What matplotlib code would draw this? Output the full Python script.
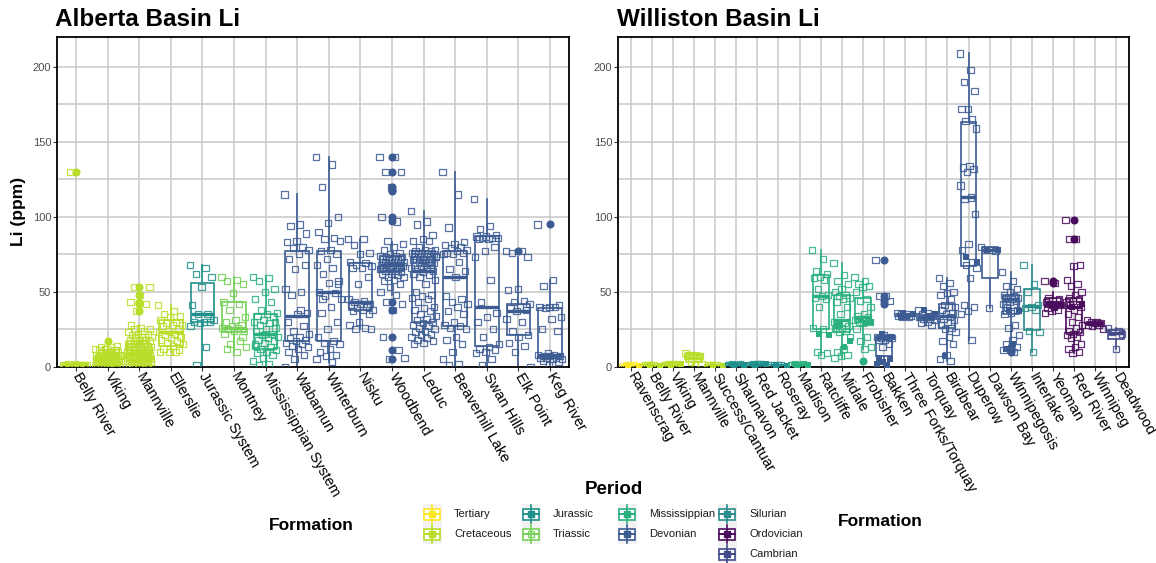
import numpy as np
import matplotlib.pyplot as plt
from matplotlib.patches import Rectangle
from matplotlib.lines import Line2D

plt.rcParams['font.family'] = ['Liberation Sans', 'DejaVu Sans']

period_colors = {
    'Tertiary': '#FDE725', 'Cretaceous': '#B8DE29', 'Jurassic': '#20908C',
    'Triassic': '#73D055', 'Mississippian': '#2AB07F', 'Devonian': '#3B5B92',
    'Silurian': '#288D8C', 'Ordovician': '#4A0C5C', 'Cambrian': '#424A8A',
}

# ---------------- Alberta Basin ----------------
ab_names = ['Belly River', 'Viking', 'Mannville', 'Ellerslie', 'Jurassic System', 'Montney',
            'Mississippian System', 'Wabamun', 'Winterburn', 'Nisku', 'Woodbend', 'Leduc',
            'Beaverhill Lake', 'Swan Hills', 'Elk Point', 'Keg River']
ab_period = ['Cretaceous', 'Cretaceous', 'Cretaceous', 'Cretaceous', 'Jurassic', 'Triassic',
             'Mississippian', 'Devonian', 'Devonian', 'Devonian', 'Devonian', 'Devonian',
             'Devonian', 'Devonian', 'Devonian', 'Devonian']
ab_q1 = [0.5, 3, 4, 14, 30, 23, 12, 17, 17, 38, 64, 30, 27, 14, 21, 5.5]
ab_med = [1, 5, 9, 23, 35, 26, 22, 34, 50, 43, 68, 64, 60, 40, 37, 7.5]
ab_q3 = [1.5, 8, 15, 31, 56, 43, 35, 77, 77, 69, 74, 77, 77, 87, 42, 39]
ab_lo = [0, 0, 0, 10, 1, 10, 1, 0, 3, 25, 48, 17, 0, 0, 0, 1]
ab_hi = [2, 14, 28, 41, 68, 60, 60, 115, 140, 85, 83, 104, 130, 112, 73, 58]
ab_outliers = [[130], [17], [37, 42, 43, 48, 53], [], [], [], [], [], [], [],
               [140, 130, 120, 118, 117, 100, 97, 43, 38, 20, 11, 5], [], [], [], [77], [95]]
ab_points = [
    [1, 1, 0, 1, 2, 1, 1, 0, 1, 1, 2, 1, 1, 0, 1, 130],
    [0, 1, 1, 2, 2, 3, 3, 3, 4, 4, 4, 4, 5, 5, 5, 5, 5, 6, 6, 6, 6, 7, 7, 7, 8, 8, 8, 9, 9, 10,
     10, 11, 11, 12, 12, 13, 13, 14, 1, 2, 3, 4, 5, 6, 7, 2, 3, 4, 5, 6, 3, 4, 5, 1, 2, 8, 9, 10, 11, 12],
    [0, 1, 1, 2, 2, 2, 3, 3, 3, 3, 4, 4, 4, 4, 5, 5, 5, 5, 6, 6, 6, 6, 7, 7, 7, 7, 8, 8, 8, 8,
     9, 9, 9, 10, 10, 10, 11, 11, 11, 12, 12, 12, 13, 13, 14, 14, 15, 15, 16, 16, 17, 17, 18, 18,
     19, 20, 20, 21, 22, 22, 23, 24, 25, 25, 26, 28, 2, 4, 6, 8, 10, 12, 14, 16, 18, 20, 3, 5, 7,
     9, 11, 13, 15, 53, 53, 48, 43, 42, 37],
    [41, 37, 35, 34, 33, 31, 30, 29, 28, 28, 27, 25, 24, 23, 22, 21, 20, 19, 18, 17, 16, 15, 14,
     12, 11, 10, 10, 10],
    [68, 66, 62, 60, 53, 41, 35, 35, 31, 30, 30, 30, 29, 27, 13, 1],
    [60, 58, 57, 55, 49, 43, 42, 38, 33, 31, 30, 28, 27, 26, 26, 25, 24, 24, 22, 17, 15, 13, 10, 12, 20],
    [60, 59, 57, 52, 50, 45, 43, 38, 36, 35, 34, 33, 31, 30, 29, 28, 26, 25, 24, 22, 21, 20, 19,
     18, 17, 16, 15, 13, 12, 11, 10, 9, 8, 6, 4, 2, 1, 30, 22, 14],
    [115, 95, 94, 89, 84, 83, 80, 79, 78, 75, 72, 68, 65, 52, 50, 48, 36, 35, 30, 27, 24, 22, 20,
     19, 18, 17, 16, 15, 14, 13, 12, 10, 8, 5, 0, 38],
    [140, 135, 120, 100, 96, 90, 86, 85, 84, 78, 77, 75, 72, 68, 66, 62, 57, 56, 50, 49, 47, 45,
     40, 36, 30, 25, 20, 17, 16, 15, 12, 10, 8, 7, 5, 3, 45, 55],
    [85, 85, 81, 76, 75, 70, 69, 68, 67, 66, 66, 60, 55, 45, 44, 43, 42, 42, 41, 40, 39, 38, 38,
     37, 35, 30, 28, 26, 25, 25],
    [140, 140, 130, 130, 120, 100, 97, 84, 82, 80, 78, 76, 75, 74, 74, 73, 73, 72, 72, 71, 71, 70,
     70, 70, 69, 69, 68, 68, 68, 67, 67, 66, 66, 65, 65, 64, 64, 63, 62, 62, 61, 60, 60, 58, 57,
     55, 53, 50, 48, 43, 42, 38, 20, 11, 5, 6, 72, 70, 68, 66, 65],
    [104, 97, 95, 88, 85, 84, 84, 80, 78, 78, 77, 77, 76, 76, 75, 75, 75, 74, 74, 74, 73, 73, 72,
     72, 72, 71, 71, 70, 70, 69, 69, 68, 68, 67, 66, 65, 65, 64, 63, 62, 61, 60, 58, 55, 50, 48,
     47, 46, 45, 43, 40, 39, 38, 37, 35, 34, 32, 31, 30, 29, 28, 27, 26, 25, 24, 23, 22, 21, 20,
     19, 18, 17, 16, 15, 70, 72, 74, 68],
    [130, 115, 93, 83, 82, 81, 80, 79, 78, 77, 76, 76, 75, 75, 70, 65, 64, 60, 47, 45, 43, 42, 40,
     37, 35, 30, 28, 27, 26, 25, 20, 18, 15, 10, 5, 2, 1],
    [112, 94, 92, 88, 87, 87, 86, 86, 86, 85, 85, 80, 77, 73, 58, 43, 36, 33, 30, 25, 20, 15, 13,
     12, 11, 10, 9, 5, 1],
    [77, 77, 76, 73, 52, 51, 44, 43, 42, 40, 39, 38, 37, 32, 30, 24, 21, 20, 16, 14, 10, 0],
    [95, 58, 54, 41, 40, 40, 40, 39, 33, 32, 25, 24, 9, 8, 8, 7, 7, 7, 6, 6, 6, 5, 5, 4, 3, 1],
]
ab_filled = [[] for _ in ab_names]

# ---------------- Williston Basin ----------------
wb_names = ['Ravenscrag', 'Belly River', 'Viking', 'Mannville', 'Success/Cantuar', 'Shaunavon',
            'Red Jacket', 'Roseray', 'Madison', 'Ratcliffe', 'Midale', 'Frobisher', 'Bakken',
            'Three Forks/Torquay', 'Torquay', 'Birdbear', 'Duperow', 'Dawson Bay', 'Winnipegosis',
            'Interlake', 'Yeoman', 'Red River', 'Winnipeg', 'Deadwood']
wb_period = ['Tertiary', 'Cretaceous', 'Cretaceous', 'Cretaceous', 'Cretaceous', 'Jurassic',
             'Jurassic', 'Jurassic', 'Mississippian', 'Mississippian', 'Mississippian',
             'Mississippian', 'Devonian', 'Devonian', 'Devonian', 'Devonian', 'Devonian',
             'Devonian', 'Devonian', 'Silurian', 'Ordovician', 'Ordovician', 'Ordovician', 'Cambrian']
wb_q1 = [0.2, 0.3, 0.8, 3, 0.3, 0.5, 0.8, 0.3, 0.5, 25, 23, 30, 7, 33.5, 31, 26, 67.5, 59, 35,
         24.6, 40, 22.4, 28, 18.4]
wb_med = [0.5, 0.7, 1.2, 6, 0.6, 1.0, 1.3, 0.7, 1.0, 47, 31, 33, 19, 34.5, 33, 34, 113, 78, 45,
          40.7, 42.5, 40, 29, 22.8]
wb_q3 = [0.8, 1.0, 1.6, 7.5, 1.0, 1.5, 2.0, 1.0, 1.5, 61, 48, 46, 20.5, 35, 34, 42, 163, 80, 48,
         51.8, 46, 45.8, 30, 24.6]
wb_lo = [0, 0, 0.3, 1, 0, 0, 0.2, 0, 0, 8, 6, 12, 1, 33, 28, 4, 18, 39, 15, 10, 36, 9, 25, 12]
wb_hi = [1, 1.5, 2, 9, 1.5, 2, 2.5, 1.5, 2, 78, 69, 58, 21, 36, 38, 59, 209, 80, 63, 68, 50, 68,
         31, 26]
wb_outliers = [[], [], [], [], [], [], [], [], [], [], [], [4], [71, 47, 44, 42], [], [], [], [],
               [], [13, 12, 11, 10], [], [57, 56], [98, 85], [], []]
wb_points = [
    [0, 0, 1, 0, 1, 0, 1, 0],
    [0, 1, 1, 0, 1, 1, 0, 1],
    [1, 1, 2, 1, 2, 1, 2, 1],
    [9, 8, 8, 7, 7, 7, 6, 3, 2, 1, 8, 7],
    [0, 1, 1, 0, 1, 1, 0],
    [1, 1, 2, 1, 0, 1, 2, 1],
    [1, 2, 2, 1, 2, 1, 2, 1],
    [0, 1, 1, 0, 1, 1, 0],
    [1, 1, 2, 1, 0, 1, 2, 1],
    [78, 72, 64, 62, 60, 59, 58, 52, 48, 47, 46, 45, 40, 26, 25, 10, 9, 8],
    [69, 61, 57, 55, 52, 50, 48, 47, 46, 45, 43, 40, 35, 30, 29, 28, 27, 26, 25, 24, 23, 20, 12,
     10, 8, 7, 6],
    [60, 57, 55, 54, 53, 50, 45, 44, 40, 35, 34, 33, 32, 31, 31, 30, 30, 29, 25, 20, 17, 13, 12],
    [71, 47, 47, 44, 21, 20, 20, 19, 19, 18, 18, 15, 13],
    [36, 35, 35, 34, 34, 34, 33, 33],
    [38, 36, 35, 34, 33, 33, 32, 32, 31, 30, 29, 28],
    [59, 56, 54, 50, 49, 48, 45, 41, 40, 40, 38, 36, 35, 34, 33, 32, 31, 30, 28, 26, 25, 23, 20,
     17, 15, 8, 5, 4],
    [209, 198, 190, 184, 172, 172, 165, 164, 159, 134, 133, 132, 130, 121, 113, 112, 102, 82, 78,
     70, 68, 66, 59, 41, 40, 37, 35, 18],
    [80, 78, 78, 77, 39],
    [63, 57, 54, 52, 50, 48, 47, 46, 46, 45, 45, 44, 43, 42, 41, 40, 38, 36, 35, 28, 26, 21, 18,
     15, 13, 12, 11, 10],
    [68, 55, 50, 41, 40, 39, 38, 24, 23, 10],
    [57, 56, 46, 45, 44, 43, 42, 42, 41, 40, 39, 38, 37, 36],
    [98, 85, 85, 68, 67, 58, 55, 54, 50, 48, 46, 45, 44, 43, 42, 41, 40, 38, 35, 33, 30, 28, 26,
     24, 23, 22, 21, 20, 19, 15, 13, 12, 10, 9],
    [31, 30, 30, 29, 29, 28, 28, 27, 25],
    [26, 24, 23, 22, 12],
]
wb_filled = [[0.5, 0.5], [0.5, 0.8], [1, 1.5], [], [0.5, 0.8], [1, 1], [1, 1.5], [0.5, 0.8],
             [1, 1], [22, 21], [28, 17, 13, 27], [31, 30, 29], [22, 20, 19, 6, 5, 3, 2, 1],
             [36, 35, 34, 33], [38, 35, 34], [7], [73, 70], [78, 78], [38, 37, 15, 12], [],
             [42, 41, 40], [40, 42], [], []]

legend_cols = [['Tertiary', 'Cretaceous'], ['Jurassic', 'Triassic'],
               ['Mississippian', 'Devonian'], ['Silurian', 'Ordovician', 'Cambrian']]


def jitter(n, shift=0.0):
    return ((np.arange(n) * 0.6180339 + shift) % 1 - 0.5) * 0.8


def draw_panel(ax, names, periods, q1, med, q3, lo, hi, outliers, points, filled):
    for i, name in enumerate(names):
        c = period_colors[periods[i]]
        stats = [dict(q1=q1[i], med=med[i], q3=q3[i], whislo=lo[i], whishi=hi[i],
                      fliers=outliers[i])]
        ax.bxp(stats, positions=[i], widths=0.75, patch_artist=True,
               boxprops=dict(facecolor='none', edgecolor=c, linewidth=1.2),
               whiskerprops=dict(color=c, linewidth=1.2),
               capprops=dict(linewidth=0),
               medianprops=dict(color=c, linewidth=2.4),
               flierprops=dict(marker='o', markerfacecolor=c, markeredgecolor=c,
                               markersize=4.8, linestyle='none'))
        pts = points[i]
        ax.scatter(i + jitter(len(pts)), pts, marker='s', s=21, facecolors='none',
                   edgecolors=c, linewidths=0.9, alpha=0.85, zorder=3)
        fl = filled[i]
        if fl:
            ax.scatter(i + jitter(len(fl), 0.37), fl, marker='s', s=21, color=c,
                       linewidths=0, zorder=3)

    ax.set_xlim(-0.6, len(names) - 0.4)
    ax.set_ylim(0, 220)
    ax.set_yticks([0, 50, 100, 150, 200])
    ax.set_yticks([25, 75, 125, 175], minor=True)
    ax.set_xticks(range(len(names)))
    ax.set_xticklabels(names, rotation=-60, ha='left', va='center', rotation_mode='anchor',
                       fontsize=10.5, color='black')
    ax.tick_params(axis='y', labelsize=8, labelcolor='#4D4D4D', length=2.75, width=0.8,
                   color='#333333', pad=1.5)
    ax.tick_params(axis='y', which='minor', length=0)
    ax.tick_params(axis='x', length=2.75, width=0.8, color='#333333', pad=2.5)
    ax.grid(True, which='both', color='#C8C8C8', linewidth=1.1)
    ax.set_axisbelow(True)
    for s in ax.spines.values():
        s.set_linewidth(1.3)
        s.set_color('black')


fig = plt.figure(figsize=(11.56, 5.63), dpi=100)
W, H = 1156, 563
ax1 = fig.add_axes([57 / W, (H - 366.7) / H, 512 / W, 329.7 / H])
ax2 = fig.add_axes([618 / W, (H - 366.7) / H, 511 / W, 329.7 / H])

draw_panel(ax1, ab_names, ab_period, ab_q1, ab_med, ab_q3, ab_lo, ab_hi, ab_outliers,
           ab_points, ab_filled)
draw_panel(ax2, wb_names, wb_period, wb_q1, wb_med, wb_q3, wb_lo, wb_hi, wb_outliers,
           wb_points, wb_filled)

# overlay in pixel coordinates for titles and legend
ov = fig.add_axes([0, 0, 1, 1])
ov.set_xlim(0, W)
ov.set_ylim(H, 0)
ov.axis('off')

ov.text(55, 20, 'Alberta Basin Li', fontsize=17.5, fontweight='bold', ha='left', va='center')
ov.text(617, 20, 'Williston Basin Li', fontsize=17.5, fontweight='bold', ha='left', va='center')
ov.text(18, 211, 'Li (ppm)', fontsize=12.5, fontweight='bold', rotation=90, ha='center',
        va='center')

ov.text(614, 489, 'Period', fontsize=13.5, fontweight='bold', ha='center', va='center')
ov.text(311, 525, 'Formation', fontsize=12.5, fontweight='bold', ha='center', va='center')
ov.text(880, 522, 'Formation', fontsize=12.5, fontweight='bold', ha='center', va='center')

col_x = [432, 531, 627, 727]
row_y = [514, 534, 554]
for cx, col in zip(col_x, legend_cols):
    top = row_y[0] - 10
    ov.add_patch(Rectangle((cx - 9.5, top), 19, 20 * len(col), facecolor='#F2F2F2',
                           edgecolor='none'))
    for ry, lab in zip(row_y, col):
        c = period_colors[lab]
        ov.add_line(Line2D([cx, cx], [ry - 9, ry + 9], color=c, linewidth=1.2))
        ov.add_patch(Rectangle((cx - 8, ry - 5.5), 16, 11, facecolor='white', edgecolor=c,
                               linewidth=1.2))
        ov.add_line(Line2D([cx - 8, cx + 8], [ry, ry], color=c, linewidth=1.4))
        if lab == 'Triassic':
            ov.plot([cx], [ry], marker='s', markersize=4, markerfacecolor='none',
                    markeredgecolor=c, markeredgewidth=0.9)
        else:
            ov.plot([cx], [ry], marker='s', markersize=4.2, color=c)
        ov.text(cx + 22, ry, lab, fontsize=8, ha='left', va='center', color='#1A1A1A')

fig.savefig('out.png', dpi=100)
